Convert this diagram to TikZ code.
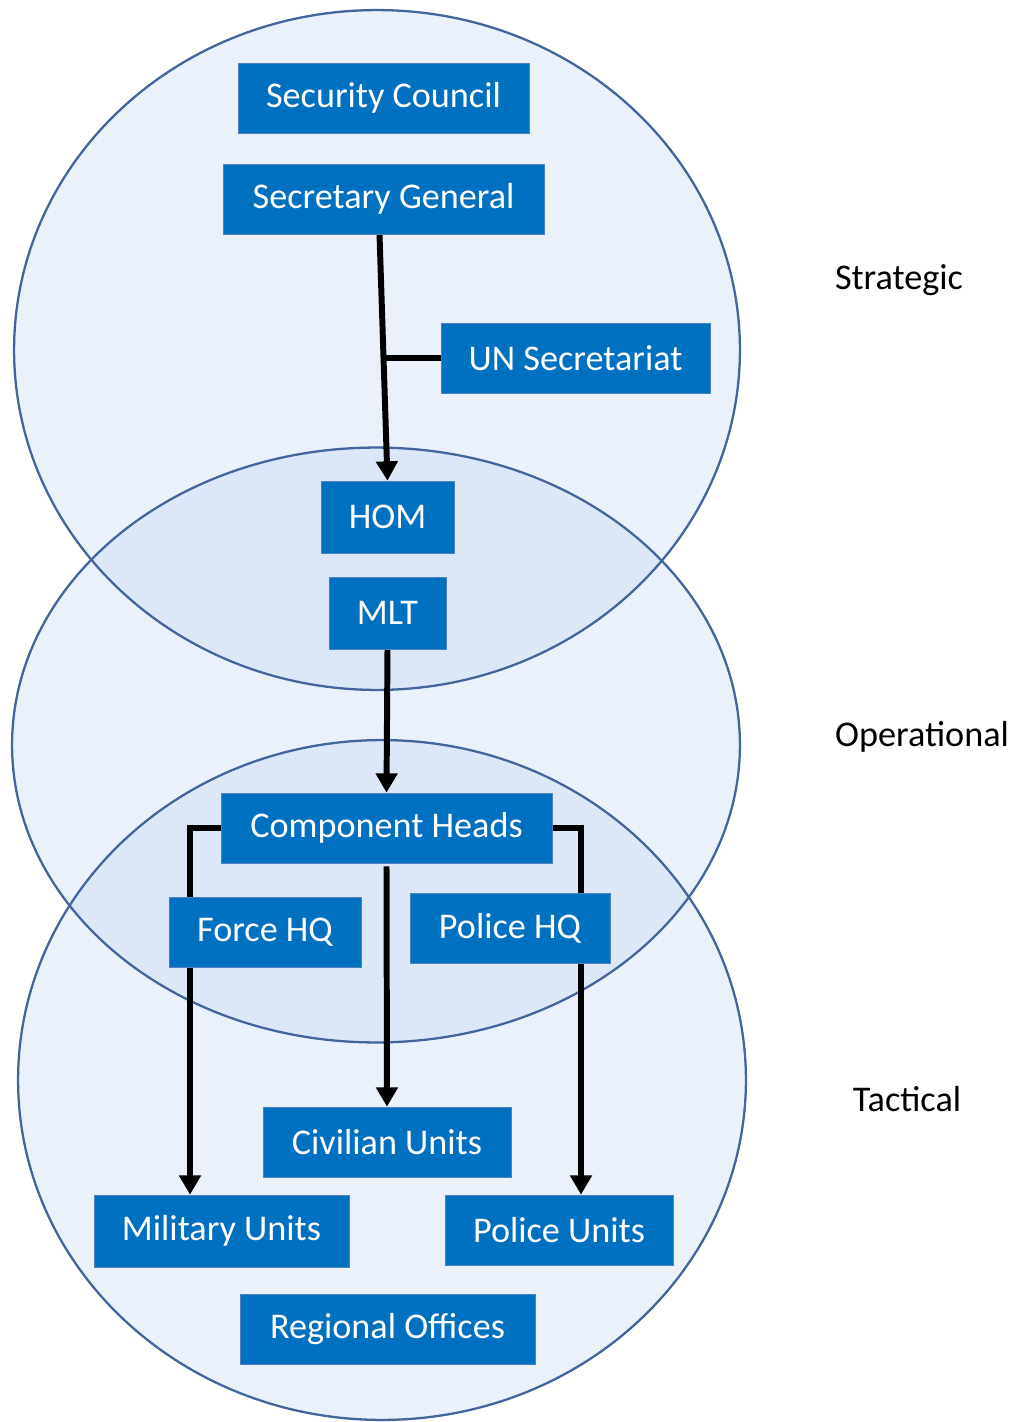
\documentclass[tikz,border=0pt]{standalone}
\usepackage{fontspec}
\setmainfont{Carlito}
\usetikzlibrary{arrows.meta}
\definecolor{boxblue}{RGB}{0,112,192}
\definecolor{boxedge}{RGB}{79,129,189}
\definecolor{ringfill}{RGB}{192,213,240}
\definecolor{ringedge}{RGB}{65,101,156}
\pgfdeclarelayer{back}
\pgfdeclarelayer{lines}
\pgfsetlayers{back,lines,main}

\begin{document}
\begin{tikzpicture}[x=0.02cm,y=-0.02cm,
    box/.style={draw=boxedge,fill=boxblue,text=white,inner sep=0pt,
      font=\fontsize{20.6}{24}\selectfont,minimum height=1.4cm},
    level/.style={font=\fontsize{20.6}{24}\selectfont},
    link/.style={line width=3.4pt},
    arr/.style={link,-{Triangle[width=12pt,length=11pt]}}]

  \useasboundingbox (0,0) rectangle (1015,1422);

  % the three levels
  \begin{pgfonlayer}{back}
    \fill [ringfill,fill opacity=0.33] (377,350) ellipse [x radius=7.26cm,y radius=6.8cm];
    \fill [ringfill,fill opacity=0.33] (376,745) ellipse [x radius=7.28cm,y radius=5.95cm];
    \fill [ringfill,fill opacity=0.33] (382,1080) ellipse [x radius=7.28cm,y radius=6.8cm];
    \draw [ringedge,line width=1.3pt] (377,350) ellipse [x radius=7.26cm,y radius=6.8cm];
    \draw [ringedge,line width=1.3pt] (376,745) ellipse [x radius=7.28cm,y radius=5.95cm];
    \draw [ringedge,line width=1.3pt] (382,1080) ellipse [x radius=7.28cm,y radius=6.8cm];
  \end{pgfonlayer}

  % level names
  \node [level] (strat) at (899,280) {Strategic};
  \node [level] (oper) at (922,737) {Operational};
  \node [level] (tact) at (907,1099) {Tactical};

  % boxes
  \node [box,minimum width=5.82cm] (council) at (383.5,98) {Security Council};
  \node [box,minimum width=6.42cm] (secgen) at (383.5,199) {Secretary General};
  \node [box,minimum width=5.38cm] (unsec) at (575.5,358) {UN Secretariat};
  \node [box,minimum width=2.66cm,minimum height=1.44cm] (hom) at (387.5,517) {HOM};
  \node [box,minimum width=2.34cm,minimum height=1.44cm] (mlt) at (387.5,613) {MLT};
  \node [box,minimum width=6.62cm] (comp) at (386.5,828) {Component Heads};
  \node [box,minimum width=3.84cm] (forcehq) at (265,932) {Force HQ};
  \node [box,minimum width=4cm] (polhq) at (510,928) {Police HQ};
  \node [box,minimum width=4.96cm] (civ) at (387,1142) {Civilian Units};
  \node [box,minimum width=5.1cm,minimum height=1.44cm] (mil) at (221.5,1231) {Military Units};
  \node [box,minimum width=4.56cm] (polunits) at (559,1230) {Police Units};
  \node [box,minimum width=5.9cm] (regional) at (387.5,1329) {Regional Offices};

  % connectors
  \begin{pgfonlayer}{lines}
    \draw [arr] ([xshift=-0.08cm]secgen.south) -- (hom.north);
    \draw [link] (unsec.west) -- ++(-56,0);
    \draw [arr] (mlt.south) -- (comp.north);
    \draw [arr] (comp.west) -| ([xshift=-0.63cm]mil.north);
    \draw [arr] (comp.east) -| ([xshift=0.44cm]polunits.north);
    \draw [arr] ([yshift=-0.06cm]comp.south) -- (civ.north);
  \end{pgfonlayer}

\end{tikzpicture}
\end{document}
